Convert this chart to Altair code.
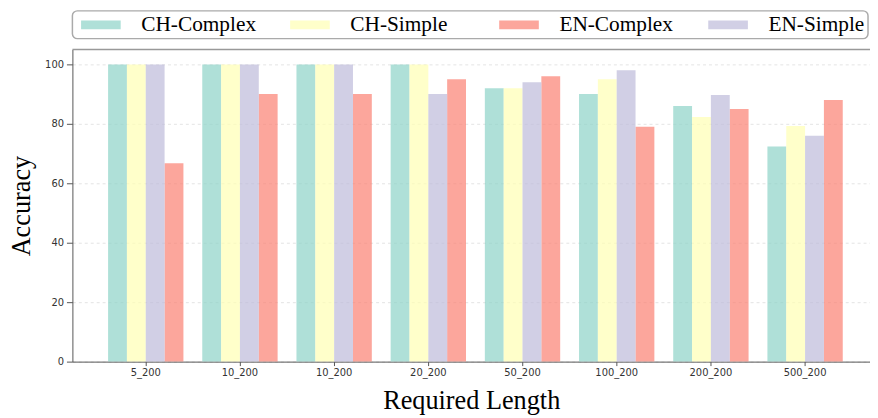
import altair as alt
import pandas as pd

categories = ["5_200", "10_200", "10_200", "20_200", "50_200", "100_200", "200_200", "500_200"]
ch_complex = [100, 100, 100, 100, 92, 90, 86, 72.4]
ch_simple = [100, 100, 100, 100, 92, 95, 82.3, 79.3]
en_complex = [66.7, 90, 90, 95, 96, 79, 85, 88]
en_simple = [100, 100, 100, 90, 94, 98, 89.7, 76]
series_names = ["CH-Complex", "CH-Simple", "EN-Complex", "EN-Simple"]
bar_order = ["CH-Complex", "CH-Simple", "EN-Simple", "EN-Complex"]
colors = ["#8dd3c7", "#ffffb3", "#fb8072", "#bebada"]
y_ticks = [0, 20, 40, 60, 80, 100]

rows = []
for s, vals in zip(series_names, [ch_complex, ch_simple, en_complex, en_simple]):
    for i, (c, v) in enumerate(zip(categories, vals)):
        rows.append({"key": f"{i}|{c}", "series": s, "acc": v})
df = pd.DataFrame(rows)
keys = [f"{i}|{c}" for i, c in enumerate(categories)]

W, H = 805, 315

bars = alt.Chart(df).mark_bar(opacity=0.7).encode(
    x=alt.X(
        "key:N",
        sort=keys,
        title="Required Length",
        scale=alt.Scale(paddingInner=0.2, paddingOuter=0.334, align=0.567),
        axis=alt.Axis(
            labelExpr="split(datum.label, '|')[1]",
            labelAngle=0,
            tickSize=4,
            labelPadding=2,
            titlePadding=10,
            grid=False,
        ),
    ),
    xOffset=alt.XOffset(
        "series:N", sort=bar_order, scale=alt.Scale(paddingInner=0, paddingOuter=0)
    ),
    y=alt.Y(
        "acc:Q",
        title="Accuracy",
        scale=alt.Scale(domain=[0, 105], nice=False, zero=True),
        axis=alt.Axis(
            values=y_ticks,
            tickSize=6,
            labelPadding=3,
            titlePadding=9,
            grid=True,
            gridDash=[3, 3],
            gridColor="#dddddd",
            gridWidth=0.8,
        ),
    ),
    color=alt.Color(
        "series:N",
        scale=alt.Scale(domain=series_names, range=colors),
        legend=alt.Legend(
            title=None,
            orient="none",
            legendX=0,
            legendY=-39,
            direction="horizontal",
            columns=4,
            gridAlign="all",
            columnPadding=28,
            symbolType="M-2,-0.45L2,-0.45L2,0.45L-2,0.45Z",
            symbolSize=400,
            symbolOffset=15,
            symbolOpacity=0.7,
            symbolStrokeWidth=0,
            labelOffset=30,
            labelFont="Liberation Serif",
            labelFontSize=21.5,
            labelColor="black",
            labelLimit=300,
            padding=3,
            strokeColor="#aaaaaa",
            cornerRadius=5,
            fillColor="white",
        ),
    ),
)

top = alt.Chart(pd.DataFrame({"v": [0]})).mark_rule(color="#999999", strokeWidth=1.5).encode(
    y=alt.value(0), x=alt.value(0), x2=alt.value(W)
)

chart = (
    alt.layer(bars, top)
    .properties(
        width=W,
        height=H,
        padding={"left": 65, "top": 40, "right": 0, "bottom": 55},
        autosize=alt.AutoSizeParams(type="none"),
    )
    .configure_view(stroke=None)
    .configure_legend(strokeWidth=1.5)
    .configure_axis(
        domainColor="#555555",
        tickColor="#555555",
        labelFont="DejaVu Sans",
        labelFontSize=10,
        labelColor="#333333",
        titleFont="Liberation Serif",
        titleFontSize=26.5,
        titleFontWeight="normal",
        titleColor="black",
    )
)

chart.save("out.html", embed_options={"renderer": "svg", "actions": False})
